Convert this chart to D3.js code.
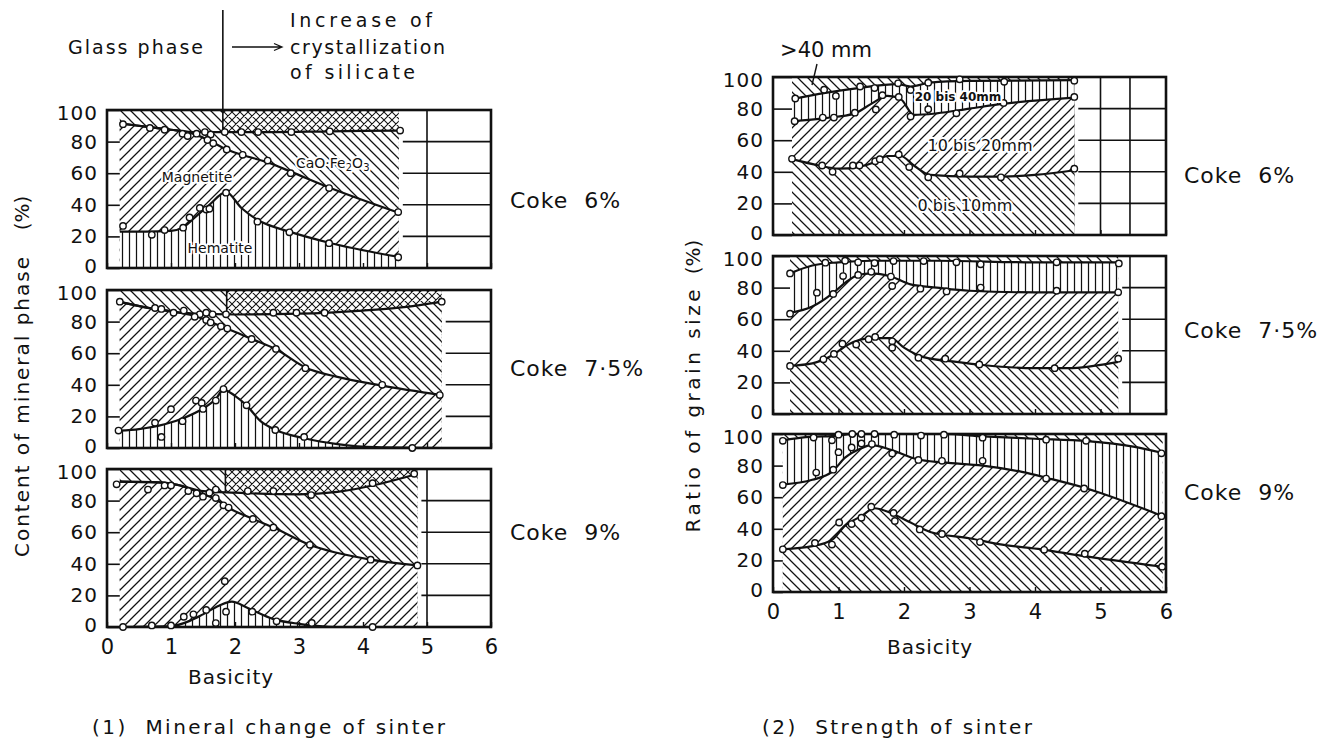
<!DOCTYPE html>
<html>
<head>
<meta charset="utf-8">
<script src="https://cdn.jsdelivr.net/npm/d3@7"></script>
<style>
    body { margin: 0; background: #fff; }
    svg text { font-family: 'DejaVu Sans', sans-serif; fill: #111; }
</style>
</head>
<body>
<div id="chart"></div>
<script>
//Datos (basicidad, %)
const basicityTicks = [0, 1, 2, 3, 4, 5, 6];
const percentTicks = [0, 20, 40, 60, 80, 100];
const gridTicks = [20, 40, 60, 80];

///(1) Mineral change of sinter
//Coke 6%
const min6Range = [0.2, 4.56];
const min6CaO = [[0.2,91.5],[0.6,89.5],[1.0,87.5],[1.4,86],[1.8,86],[2.5,86],[3.5,86.5],[4.56,87]];
const min6Mag = [[0.2,91.5],[0.6,89.5],[1.0,87.5],[1.3,85.5],[1.56,81.5],[1.87,75],[2.12,71.5],[2.5,67],[2.87,61],[3.47,51],[4.56,35]];
const min6Hem = [[0.2,23],[0.6,23],[1.0,23.5],[1.2,26],[1.4,33],[1.6,40],[1.86,48],[2.1,38],[2.35,30.5],[2.85,23],[3.47,16],[4.56,7]];
const min6CaOPts = [[0.25,91],[0.67,88.6],[0.9,87.5],[1.18,85],[1.26,83.5],[1.53,86],[1.84,86],[2.1,86],[2.36,86],[2.88,86],[3.48,86.5],[4.58,87]];
const min6MagPts = [[1.4,85],[1.62,84.5],[1.57,81],[1.66,79],[1.87,75],[2.12,71.6],[2.51,68],[2.87,60],[3.47,50.6],[4.55,35.4]];
const min6HemPts = [[0.25,26.6],[0.7,21],[0.9,24],[1.19,25.5],[1.29,32],[1.45,38],[1.55,37],[1.6,37.5],[1.86,47.7],[2.35,29.3],[2.85,22.6],[3.47,15.7],[4.55,6.8]];

//Coke 7·5%
const min75Range = [0.2, 5.23];
const min75CaO = [[0.2,92.5],[0.6,89],[1.0,86.5],[1.4,85],[2.0,84.5],[3.0,85],[4.0,87],[4.6,89],[5.23,92.5]];
const min75Mag = [[0.2,92.5],[0.6,89],[1.0,86.5],[1.37,83.5],[1.55,81],[1.78,77],[1.88,75.5],[2.26,69],[2.64,62.5],[3.1,51],[3.6,45],[4.3,39.5],[5.23,33.5]];
const min75Hem = [[0.2,11],[0.5,12],[0.9,15],[1.2,19],[1.5,25],[1.7,31],[1.82,37],[2.0,33],[2.18,27],[2.4,17],[2.63,11.5],[3.1,6],[3.6,2.5],[4.2,0.5],[5.23,0]];
const min75CaOPts = [[0.2,92.6],[0.75,88.6],[0.85,88],[1.04,85.6],[1.2,87],[1.45,84.6],[1.55,85.6],[1.65,84.6],[1.86,84.6],[2.6,85.6],[2.96,85.6],[3.4,85.6],[5.23,92.6]];
const min75MagPts = [[1.37,83],[1.55,81],[1.62,79.5],[1.78,77],[1.88,75.6],[2.26,69],[2.64,62.7],[3.1,50.5],[4.3,40],[5.2,33.5]];
const min75HemPts = [[0.18,11],[0.75,16],[0.85,7],[1.0,24.6],[1.18,17],[1.39,30],[1.48,28.5],[1.5,24.7],[1.7,30],[1.82,37.3],[2.18,27],[2.63,11.4],[3.08,7],[4.77,0]];

//Coke 9%
const min9Range = [0.2, 4.85];
const min9CaO = [[0.2,92],[0.8,91.5],[1.1,90],[1.5,86],[2.0,85],[3.0,84],[3.6,85.5],[4.2,90],[4.85,97]];
const min9Mag = [[0.2,92],[0.8,91.5],[1.1,90],[1.5,84],[1.7,81],[1.82,77.5],[1.9,75.5],[2.28,68.4],[2.6,63],[3.17,52],[4.12,42.6],[4.85,39]];
const min9Hem = [[0.2,0],[1.0,0.5],[1.3,4],[1.5,8],[1.75,13.5],[1.95,16],[2.2,12],[2.6,5],[3.0,2],[3.6,0],[4.85,0]];
const min9CaOPts = [[0.15,90.3],[0.64,87],[0.9,89.6],[1.0,89.6],[1.27,86],[1.4,84.6],[1.6,85],[1.7,87],[2.2,86],[2.6,86],[3.19,83.5],[4.15,91],[4.8,97]];
const min9MagPts = [[1.5,82.5],[1.7,81.6],[1.82,77],[1.9,75.6],[2.28,68.4],[2.6,63],[3.17,52],[4.12,42.6],[4.85,39]];
const min9HemPts = [[0.25,0],[0.7,1],[1.0,1],[1.2,6.5],[1.35,8],[1.55,10.8],[1.7,2.5],[1.86,9.7],[1.84,29],[2.27,9.7],[2.65,3.6],[3.2,2.6],[4.15,0]];

///(2) Strength of sinter
//Coke 6%
const str6Range = [0.29, 4.6];
const str6Over40 = [[0.29,86],[0.8,90],[1.3,93],[1.9,95.5],[2.1,94],[2.4,96.5],[3.0,97.5],[4.6,98]];
const str6Over20 = [[0.29,72],[0.8,74],[1.25,77],[1.5,83],[1.75,88],[1.95,86],[2.15,76],[2.5,77],[3.0,80],[3.5,83],[4.6,87]];
const str6Over10 = [[0.29,48],[0.7,44],[1.0,42],[1.3,43],[1.55,46],[1.75,50],[1.95,50],[2.15,44],[2.4,38],[3.0,37],[3.5,37],[4.0,38],[4.6,41]];
const str6Over40Pts = [[0.34,86.4],[0.78,92],[0.96,88],[1.33,94],[1.55,93],[1.91,96],[2.1,91.7],[2.37,96.4],[2.85,98.5],[3.53,97],[4.6,97.7]];
const str6Over20Pts = [[0.33,72],[0.76,74.3],[0.93,74.3],[1.25,77.4],[1.57,79.5],[1.67,88.5],[1.92,87.4],[2.1,75],[2.37,79.6],[2.8,77],[3.52,83.6],[4.6,87.4]];
const str6Over10Pts = [[0.29,48.2],[0.75,44],[0.91,40],[1.22,44],[1.32,44],[1.56,46.7],[1.63,48],[1.92,51],[2.08,43],[2.37,36.5],[2.85,39],[3.48,36.5],[4.6,42]];

//Coke 7·5%
const str75Range = [0.26, 5.27];
const str75Over40 = [[0.26,89],[0.6,94],[1.0,96],[1.5,97],[2.5,97],[4.0,96],[5.27,96]];
const str75Over20 = [[0.26,64],[0.6,68],[0.9,76],[1.1,83],[1.3,88],[1.5,89],[1.8,87],[2.1,82],[2.5,80],[3.0,78],[4.0,77],[5.27,77]];
const str75Over10 = [[0.26,30.5],[0.6,32],[0.9,37],[1.15,44],[1.5,48],[1.8,48],[2.0,42],[2.3,36],[2.8,33],[3.2,31],[4.0,29],[4.5,29],[5.27,33]];
const str75Over40Pts = [[0.26,89],[0.8,95.8],[1.1,97],[1.3,96],[1.55,95.5],[1.84,96.8],[2.3,96.8],[2.8,96],[3.17,94.7],[4.33,96],[5.28,95.3]];
const str75Over20Pts = [[0.26,63.5],[0.67,76.8],[0.92,76],[1.07,87.3],[1.3,88],[1.5,90],[1.8,87],[1.82,81],[2.25,79.3],[2.65,77.6],[3.17,80],[4.33,78],[5.27,77]];
const str75Over10Pts = [[0.26,30.4],[0.77,34.6],[0.93,38],[1.06,44.5],[1.27,44],[1.46,47.3],[1.56,48.8],[1.82,46],[1.82,42],[2.22,35.6],[2.63,35],[3.15,31.4],[4.3,29],[5.27,35]];

//Coke 9%
const str9Range = [0.15, 5.95];
const str9Over40 = [[0.15,96],[0.5,98],[1.0,99],[1.2,100],[2.6,100],[3.2,98.5],[4.0,97],[4.8,95.5],[5.5,92],[5.95,88]];
const str9Over20 = [[0.15,68],[0.6,71],[0.9,76],[1.1,85],[1.35,91],[1.5,93],[1.8,90],[2.2,84],[2.6,82],[3.2,80],[3.8,76],[4.2,72],[4.75,66],[5.95,48]];
const str9Over10 = [[0.15,27],[0.6,29],[0.9,33],[1.1,42],[1.35,48],[1.55,53],[1.8,50],[2.1,44],[2.4,38],[3.0,34],[3.5,30],[4.1,27],[4.7,23],[5.95,16]];
const str9Over40Pts = [[0.15,95.7],[0.62,97.8],[0.9,96],[1.0,99.6],[1.21,100],[1.35,100],[1.55,100],[1.85,99.6],[2.26,99],[2.61,99.6],[3.2,97.7],[4.17,96.4],[4.78,95.7],[5.93,87.8]];
const str9Over20Pts = [[0.15,67.7],[0.66,75.6],[0.92,77.4],[1.0,88.5],[1.2,91.5],[1.35,94],[1.51,93.6],[1.82,87.7],[2.22,83.6],[2.58,83],[3.2,83],[4.17,71.8],[4.75,65.5],[5.93,48]];
const str9Over10Pts = [[0.15,27],[0.64,31],[0.9,30],[1.01,44],[1.2,43],[1.35,47],[1.5,54],[1.84,50],[1.86,45],[2.24,39.6],[2.58,36.7],[3.16,31.6],[4.14,26.7],[4.76,24.2],[5.94,16]];

//Etiquetas
const cokeLabels = ['Coke  6%', 'Coke  7·5%', 'Coke  9%'];

//Estructura de los paneles
const PANEL_H = 158;
let panels = [
    {xr: [107, 491], top: 110, range: min6Range, split: 1.81, gridX: [5], axis: false,
        layers: [[min6CaO, 'back'], [min6Mag, 'fwd'], [min6Hem, 'vert']], pts: [min6CaOPts, min6MagPts, min6HemPts]},
    {xr: [107, 491], top: 290, range: min75Range, split: 1.87, gridX: [], axis: false,
        layers: [[min75CaO, 'back'], [min75Mag, 'fwd'], [min75Hem, 'vert']], pts: [min75CaOPts, min75MagPts, min75HemPts]},
    {xr: [107, 491], top: 469, range: min9Range, split: 1.85, gridX: [5], axis: true,
        layers: [[min9CaO, 'back'], [min9Mag, 'fwd'], [min9Hem, 'vert']], pts: [min9CaOPts, min9MagPts, min9HemPts]},
    {xr: [773, 1166], top: 77, range: str6Range, gridX: [5, 5.45], axis: false,
        layers: [[str6Over40, 'vert'], [str6Over20, 'fwd'], [str6Over10, 'back']], pts: [str6Over40Pts, str6Over20Pts, str6Over10Pts]},
    {xr: [773, 1166], top: 256, range: str75Range, gridX: [5.45], axis: false,
        layers: [[str75Over40, 'vert'], [str75Over20, 'fwd'], [str75Over10, 'back']], pts: [str75Over40Pts, str75Over20Pts, str75Over10Pts]},
    {xr: [773, 1166], top: 434, range: str9Range, gridX: [], axis: true,
        layers: [[str9Over40, 'vert'], [str9Over20, 'fwd'], [str9Over10, 'back']], pts: [str9Over40Pts, str9Over20Pts, str9Over10Pts]}
];

let svg = d3.select('#chart')
    .append('svg')
        .attr('width', 1330)
        .attr('height', 742);

//Tramas
let defs = svg.append('defs');
function addPattern(id, s, d, w) {
    let p = defs.append('pattern')
        .attr('id', id)
        .attr('patternUnits', 'userSpaceOnUse')
        .attr('width', s)
        .attr('height', s);
    p.append('rect').attr('width', s).attr('height', s).attr('fill', '#fff');
    p.append('path').attr('d', d).attr('stroke', '#111').attr('stroke-width', w || 1.25).attr('fill', 'none');
}
let s = 10;
addPattern('back', s, `M-1,-1L${s+1},${s+1}M-1,${s-1}L1,${s+1}M${s-1},-1L${s+1},1`);
addPattern('fwd', s, `M-1,${s+1}L${s+1},-1M-1,1L1,-1M${s-1},${s+1}L${s+1},${s-1}`);
addPattern('vert', 7, 'M3.5,0V7');
let c = 8;
addPattern('cross', c, `M-1,-1L${c+1},${c+1}M-1,${c-1}L1,${c+1}M${c-1},-1L${c+1},1M-1,${c+1}L${c+1},-1M-1,1L1,-1M${c-1},${c+1}L${c+1},${c-1}`, 1.05);

function drawPanel(p, i) {
    let x = d3.scaleLinear().domain([0, 6]).range(p.xr);
    let y = d3.scaleLinear().domain([0, 100]).range([p.top + PANEL_H, p.top]);
    let g = svg.append('g').attr('class', 'panel_' + i);

    let area = d3.area()
        .x(function(d) { return x(d[0]); })
        .y0(y(0))
        .y1(function(d) { return y(d[1]); })
        .curve(d3.curveMonotoneX);
    let line = d3.line()
        .x(function(d) { return x(d[0]); })
        .y(function(d) { return y(d[1]); })
        .curve(d3.curveMonotoneX);

    //Zona superior
    g.append('rect')
        .attr('x', x(p.range[0]))
        .attr('y', y(100))
        .attr('width', x(p.range[1]) - x(p.range[0]))
        .attr('height', y(0) - y(100))
        .attr('fill', 'url(#back)');

    //Cristalización de silicatos
    if (p.split) {
        g.append('rect')
            .attr('x', x(p.split))
            .attr('y', y(100))
            .attr('width', x(p.range[1]) - x(p.split))
            .attr('height', y(0) - y(100))
            .attr('fill', 'url(#cross)');
    }

    p.layers.forEach(function(l) {
        g.append('path').datum(l[0]).attr('d', area).attr('fill', 'url(#' + l[1] + ')');
    });

    if (p.split) {
        let upper = p.layers[0][0];
        let interp = d3.scaleLinear().domain(upper.map(function(d) { return d[0]; })).range(upper.map(function(d) { return d[1]; }));
        g.append('line')
            .attr('x1', x(p.split)).attr('x2', x(p.split))
            .attr('y1', i == 0 ? 10 : y(100))
            .attr('y2', y(interp(p.split)))
            .attr('stroke', '#111').attr('stroke-width', 1.6);
    }

    p.layers.forEach(function(l) {
        g.append('path').datum(l[0]).attr('d', line)
            .attr('fill', 'none').attr('stroke', '#111').attr('stroke-width', 2.2);
    });

    //Rejilla fuera de los datos
    g.selectAll('.gridH')
        .data(gridTicks)
        .enter()
        .append('line')
        .attr('x1', x(p.range[1]) + 4).attr('x2', p.xr[1])
        .attr('y1', function(d) { return y(d); }).attr('y2', function(d) { return y(d); })
        .attr('stroke', '#111').attr('stroke-width', 1.6);
    g.selectAll('.gridV')
        .data(p.gridX)
        .enter()
        .append('line')
        .attr('x1', function(d) { return x(d); }).attr('x2', function(d) { return x(d); })
        .attr('y1', y(0)).attr('y2', y(100))
        .attr('stroke', '#111').attr('stroke-width', 1.6);

    //Ejes
    let yAxis = g.append('g')
        .attr('transform', 'translate(' + p.xr[0] + ',0)')
        .call(d3.axisLeft(y).tickValues(percentTicks).tickSizeInner(-(x(p.range[0]) - p.xr[0])).tickSizeOuter(0).tickPadding(9));
    yAxis.select('.domain').remove();
    yAxis.selectAll('.tick line').attr('stroke', '#111').attr('stroke-width', 1.6);
    yAxis.selectAll('text')
        .attr('font-size', 20).attr('font-family', 'DejaVu Sans').attr('letter-spacing', 1).attr('fill', '#111')
        .attr('dy', function(d) { return d == 0 ? '0.2em' : d == 100 ? '0.45em' : '0.32em'; });

    let xAxis = g.append('g')
        .attr('transform', 'translate(0,' + y(0) + ')')
        .call(d3.axisBottom(x).tickValues(basicityTicks).tickSizeInner(-5).tickSizeOuter(0).tickPadding(12)
            .tickFormat(function(d) { return p.axis ? d : ''; }));
    xAxis.select('.domain').remove();
    xAxis.selectAll('.tick line').attr('stroke', '#111').attr('stroke-width', 1.4);
    xAxis.selectAll('text').attr('font-size', 21).attr('font-family', 'DejaVu Sans').attr('fill', '#111');

    //Marco
    g.append('rect')
        .attr('x', p.xr[0]).attr('y', y(100))
        .attr('width', p.xr[1] - p.xr[0]).attr('height', y(0) - y(100))
        .attr('fill', 'none').attr('stroke', '#111').attr('stroke-width', 2.6);

    //Puntos medidos
    p.pts.forEach(function(set) {
        g.selectAll(null)
            .data(set)
            .enter()
            .append('circle')
            .attr('cx', function(d) { return x(d[0]); })
            .attr('cy', function(d) { return y(d[1]); })
            .attr('r', 3.2)
            .attr('fill', '#fff')
            .attr('stroke', '#111')
            .attr('stroke-width', 1.4);
    });
}

panels.forEach(drawPanel);

//Textos
function label(txt, x, y, size, opts) {
    opts = opts || {};
    let t = svg.append('text')
        .attr('x', x).attr('y', y)
        .attr('font-size', size)
        .attr('text-anchor', opts.anchor || 'start')
        .attr('dominant-baseline', 'central')
        .style('white-space', 'pre')
        .text(txt);
    if (opts.length) { t.attr('textLength', opts.length).attr('lengthAdjust', 'spacing'); }
    if (opts.spacing) { t.attr('letter-spacing', opts.spacing); }
    if (opts.rotate) { t.attr('transform', 'rotate(-90,' + x + ',' + y + ')'); }
    if (opts.halo) {
        t.attr('stroke', '#fff').attr('stroke-width', 4).attr('paint-order', 'stroke').attr('stroke-linejoin', 'round');
    }
    return t;
}

cokeLabels.forEach(function(d, i) {
    label(d, 510, [200, 368, 532][i], 22, {spacing: 1});
    label(d, 1184, [175, 330, 492][i], 22, {spacing: 1});
});

label('Glass phase', 68, 47, 19, {length: 135});
label('Increase of', 290, 20, 19, {length: 142});
label('crystallization', 290, 47, 19, {length: 155});
label('of silicate', 290, 72, 19, {length: 125});
svg.append('path')
    .attr('d', 'M232,47H282M274,43.5L282,47L274,50.5')
    .attr('fill', 'none').attr('stroke', '#111').attr('stroke-width', 1.3);

label('Magnetite', 197, 177, 14, {anchor: 'middle', halo: true});
label('Hematite', 220, 248, 14, {anchor: 'middle', halo: true});
let cao = label('CaO·Fe', 296, 163, 14, {halo: true});
cao.append('tspan').attr('font-size', 10).attr('dy', 4).text('2');
cao.append('tspan').attr('font-size', 14).attr('dy', -4).text('O');
cao.append('tspan').attr('font-size', 10).attr('dy', 4).text('3');

label('>40 mm', 826, 50, 21, {anchor: 'middle'});
svg.append('line').attr('x1', 817).attr('y1', 64).attr('x2', 812).attr('y2', 85)
    .attr('stroke', '#111').attr('stroke-width', 1.4);
label('20 bis 40mm', 958, 97, 12, {anchor: 'middle', halo: true}).attr('font-weight', 'bold');
label('10 bis 20mm', 980, 145, 16, {anchor: 'middle', halo: true});
label('0 bis 10mm', 965, 205, 16, {anchor: 'middle', halo: true});

label('Basicity', 231, 677, 20, {anchor: 'middle', spacing: 1});
label('Basicity', 930, 647, 20, {anchor: 'middle', spacing: 1});
label('(1)  Mineral change of sinter', 92, 727, 20, {length: 353});
label('(2)  Strength of sinter', 762, 727, 20, {length: 270});

label('Content of mineral phase', 22, 407, 20, {anchor: 'middle', rotate: true, length: 300});
label('(%)', 22, 213, 20, {anchor: 'middle', rotate: true});
label('Ratio of grain size', 693, 411, 20, {anchor: 'middle', rotate: true, length: 243});
label('(%)', 693, 257, 20, {anchor: 'middle', rotate: true});
</script>
</body>
</html>
